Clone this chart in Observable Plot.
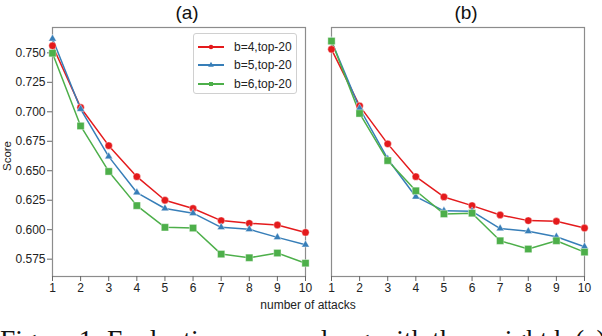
<!DOCTYPE html>
<html>
<head>
<meta charset="utf-8">
<script src="https://cdn.jsdelivr.net/npm/d3@7"></script>
<script src="https://cdn.jsdelivr.net/npm/@observablehq/plot@0.6"></script>
<style>
  html, body { margin: 0; padding: 0; background: #fff; overflow: hidden; }
  #wrap { position: relative; width: 602px; height: 336px; overflow: hidden; font-family: "Liberation Sans", Arial, sans-serif; }
  #chart svg { display: block; }
  .ov { position: absolute; white-space: nowrap; color: #222; }
  #legend { position: absolute; left: 193px; top: 33px; width: 104px; height: 61px; box-sizing: border-box;
            border: 1px solid #d0d0d0; border-radius: 3px; background: rgba(255,255,255,0.85); }
  .lrow { position: absolute; left: 4px; height: 14px; display: flex; align-items: center; font-size: 12px; color: #222; }
  .lrow svg { margin-right: 10px; }
</style>
</head>
<body>
<div id="wrap">
  <div id="chart"></div>
</div>
<script>
// ---- data ----
const panels = ["(a)", "(b)"];
const attacks = [1, 2, 3, 4, 5, 6, 7, 8, 9, 10];
const seriesNames = ["b=4,top-20", "b=5,top-20", "b=6,top-20"];
const seriesColors = ["#e41a1c", "#377eb8", "#4daf4a"];

// panel (a)
const a_b4 = [0.756, 0.7037, 0.6713, 0.645, 0.625, 0.618, 0.6077, 0.6054, 0.604, 0.5977];
const a_b5 = [0.762, 0.7023, 0.662, 0.6315, 0.618, 0.614, 0.602, 0.6003, 0.5935, 0.5873];
const a_b6 = [0.7497, 0.688, 0.6494, 0.6204, 0.602, 0.6014, 0.5793, 0.5762, 0.5802, 0.5716];
// panel (b)
const b_b4 = [0.753, 0.705, 0.6728, 0.645, 0.6278, 0.6204, 0.6125, 0.6077, 0.6071, 0.6014];
const b_b5 = [0.760, 0.703, 0.660, 0.628, 0.616, 0.6156, 0.601, 0.5986, 0.594, 0.5856];
const b_b6 = [0.760, 0.6986, 0.6586, 0.633, 0.6134, 0.614, 0.5906, 0.5836, 0.5906, 0.581];

const yTicks = [0.575, 0.600, 0.625, 0.650, 0.675, 0.700, 0.725, 0.750];
const xTicks = [1, 2, 3, 4, 5, 6, 7, 8, 9, 10];
const yDomain = [0.5603, 0.7715];

const xLabel = "number of attacks";
const yLabel = "Score";
const caption = "Figure 1: Evaluation scores along with the weight b (a)";

// ---- tidy table ----
const table = [];
const bySeries = { "(a)": [a_b4, a_b5, a_b6], "(b)": [b_b4, b_b5, b_b6] };
for (const p of panels) {
  bySeries[p].forEach((vals, si) => {
    vals.forEach((v, i) => table.push({ panel: p, series: seriesNames[si], x: attacks[i], y: v }));
  });
}

const symbolFor = ["circle", "triangle", "square"];
const radiusFor = [3.7, 2.9, 4.1];

const dotMarks = seriesNames.map((s, si) =>
  Plot.dot(table.filter(d => d.series === s), {
    x: "x", y: "y", fx: "panel", fill: "series",
    symbol: symbolFor[si], r: radiusFor[si], stroke: "white", strokeWidth: 0.4
  })
);

const chart = Plot.plot({
  width: 602,
  height: 336,
  marginTop: 27,
  marginBottom: 60,
  marginLeft: 52,
  marginRight: 18,
  style: { fontFamily: "'Liberation Sans', Arial, sans-serif", fontSize: "12px", color: "#222", background: "transparent" },
  x: { domain: [1, 10], axis: null },
  y: { domain: yDomain, axis: null },
  fx: { domain: panels, paddingInner: 0.0932, paddingOuter: 0, axis: null, label: null },
  color: { domain: seriesNames, range: seriesColors },
  marks: [
    Plot.frame({ stroke: "#8c8c8c", strokeWidth: 1.2 }),
    Plot.axisX({ ticks: xTicks, tickFormat: d => String(d), tickSize: 5, tickPadding: 1.5,
                 stroke: "#666", fill: "#222", label: null, fontSize: 12 }),
    Plot.axisY({ ticks: yTicks, tickFormat: d3.format(".3f"), tickSize: 5, tickPadding: 2,
                 stroke: "#666", fill: "#222", label: null, fontSize: 12 }),
    Plot.axisFx({ anchor: "top", tickSize: 0, tickPadding: 9, fontSize: 19, dx: 8, fill: "#111", label: null }),
    Plot.line(table, { x: "x", y: "y", fx: "panel", z: "series", stroke: "series", strokeWidth: 1.5 }),
    ...dotMarks
  ]
});
document.getElementById("chart").appendChild(chart);

const wrap = document.getElementById("wrap");

// x label
const xl = document.createElement("div");
xl.className = "ov";
xl.textContent = xLabel;
xl.style.cssText += "left:308px; top:298px; font-size:12px; transform:translateX(-50%);";
wrap.appendChild(xl);

// y label
const yl = document.createElement("div");
yl.className = "ov";
yl.textContent = yLabel;
yl.style.cssText += "left:6.5px; top:156px; font-size:11.5px; transform:translate(-50%,-50%) rotate(-90deg);";
wrap.appendChild(yl);

// legend
const lg = document.createElement("div");
lg.id = "legend";
const ns = "http://www.w3.org/2000/svg";
seriesNames.forEach((s, si) => {
  const row = document.createElement("div");
  row.className = "lrow";
  row.style.top = (6 + si * 18.3) + "px";
  const sw = document.createElementNS(ns, "svg");
  sw.setAttribute("width", "26"); sw.setAttribute("height", "14");
  const ln = document.createElementNS(ns, "line");
  ln.setAttribute("x1", "0"); ln.setAttribute("x2", "26"); ln.setAttribute("y1", "7"); ln.setAttribute("y2", "7");
  ln.setAttribute("stroke", seriesColors[si]); ln.setAttribute("stroke-width", "2");
  sw.appendChild(ln);
  const mk = document.createElementNS(ns, "path");
  const sym = [d3.symbolCircle, d3.symbolTriangle, d3.symbolSquare][si];
  const size = [16, 14, 16][si];
  mk.setAttribute("d", d3.symbol(sym, size)());
  mk.setAttribute("transform", "translate(13,7)");
  mk.setAttribute("fill", seriesColors[si]);
  sw.appendChild(mk);
  row.appendChild(sw);
  const tx = document.createElement("span");
  tx.textContent = s;
  row.appendChild(tx);
  lg.appendChild(row);
});
wrap.appendChild(lg);

// caption
const cap = document.createElement("div");
cap.className = "ov";
cap.textContent = caption;
cap.style.cssText += "left:0px; top:326px; font-family:'Liberation Serif','Times New Roman',serif; font-size:27.5px; line-height:1; color:#111;";
wrap.appendChild(cap);
</script>
</body>
</html>
